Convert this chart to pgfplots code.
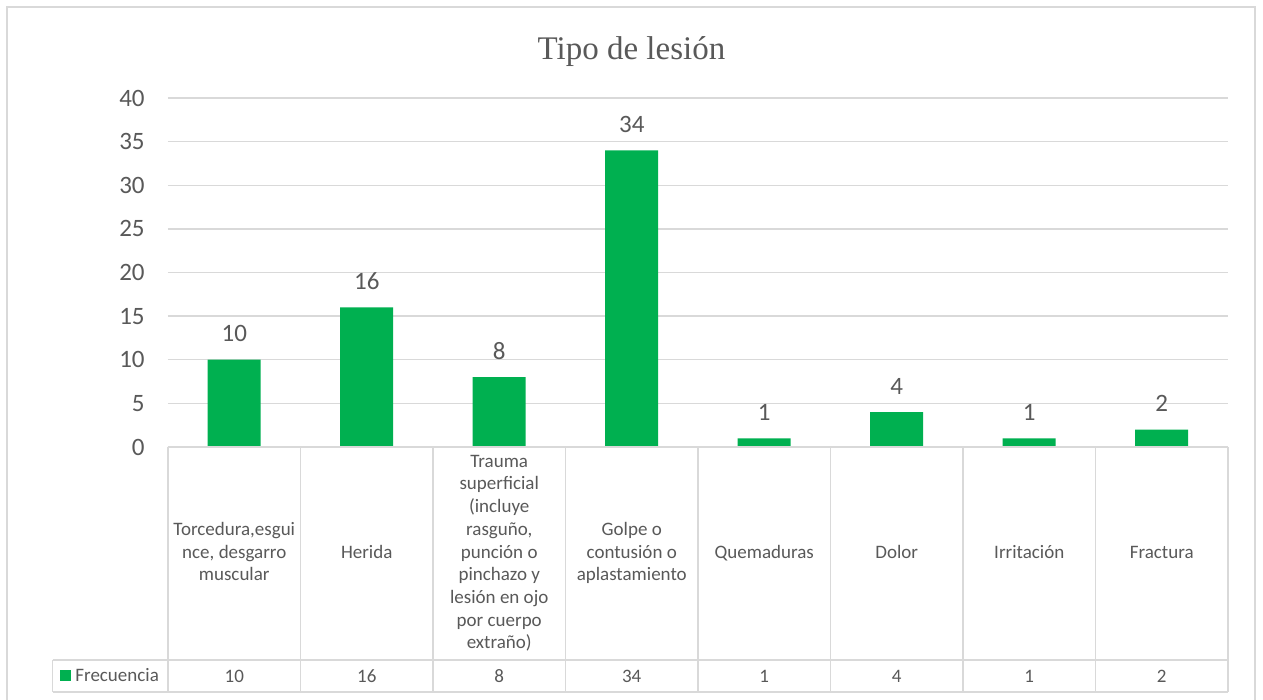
\documentclass[border=0pt]{standalone}
\usepackage{fontspec}
\setmainfont{Carlito}
\newfontfamily\titlefont{Liberation Serif}
\usepackage{pgfplots}
\usepackage{pgfplotstable}
\pgfplotsset{compat=1.18}

\definecolor{barg}{HTML}{00B050}
\definecolor{txt}{HTML}{595959}
\definecolor{gridc}{HTML}{D9D9D9}

% tipo de lesion -> frecuencia
\pgfplotstableread{
idx freq
0   10
1   16
2   8
3   34
4   1
5   4
6   1
7   2
}\lesiones

\newcommand{\tabfont}{\fontsize{9.5}{11.35}\selectfont}
\newcommand{\numfont}{\fontsize{12.5}{15}\selectfont}

\begin{document}
\begin{tikzpicture}
\useasboundingbox (-84pt,-126.5pt) rectangle (547.5pt,223.5pt);
\fill[white] (-84pt,-126.5pt) rectangle (547.5pt,223.5pt);
\draw[gridc, line width=0.75pt] (-80.5pt,-130pt) rectangle (543.5pt,220pt);
\node[font=\titlefont\fontsize{16.5}{20}\selectfont, text=txt, anchor=base, inner sep=0pt]
  at (231.75pt,193.5pt) {Tipo de lesión};

\begin{axis}[
  at={(0,0)}, anchor=south west,
  scale only axis,
  width=530pt, height=174.5pt,
  xmin=-0.5, xmax=7.5,
  ymin=0, ymax=40,
  ytick={0,5,...,40},
  xtick={0,...,7},
  xticklabels={
    {\strut Torcedura,esgui\\nce, desgarro\\muscular\strut},
    {\strut Herida\strut},
    {\strut Trauma\\superficial\\(incluye\\rasguño,\\punción o\\pinchazo y\\lesión en ojo\\por cuerpo\\extraño)\strut},
    {\strut Golpe o\\contusión o\\aplastamiento\strut},
    {\strut Quemaduras\strut}, {\strut Dolor\strut}, {\strut Irritación\strut}, {\strut Fractura\strut}},
  ymajorgrids,
  grid style={gridc, line width=0.65pt},
  axis line style={draw=none},
  major tick length=0pt,
  /pgf/number format/assume math mode=true,
  yticklabel style={font=\numfont, text=txt, anchor=east, inner sep=0pt, xshift=-11.5pt},
  xticklabel style={font=\tabfont, text=txt, anchor=center, align=center, inner sep=0pt, yshift=-53.25pt},
  clip=false,
]
\addplot[ybar, bar width=26.5pt, fill=barg, draw=none,
  nodes near coords,
  every node near coord/.append style={font=\numfont, text=txt, anchor=base, inner sep=0pt, yshift=9pt}]
  table[x=idx, y=freq] {\lesiones};

% fila de valores de la tabla de datos
\addplot[draw=none, nodes near coords, point meta=explicit,
  every node near coord/.append style={font=\tabfont, text=txt, anchor=base, inner sep=0pt, yshift=-117.5pt}]
  table[x=idx, y expr=0, meta=freq] {\lesiones};

% lineas de la tabla
\draw[gridc, line width=0.75pt] (axis cs:-0.5,0) -- (axis cs:7.5,0);
\pgfplotsinvokeforeach{-0.5,0.5,...,7.5}{
  \draw[gridc, line width=0.75pt] (axis cs:#1,0) -- ++(0pt,-122.5pt);
}
\draw[gridc, line width=0.75pt] ([xshift=-57.65pt,yshift=-106.5pt]axis cs:-0.5,0) -- ([yshift=-106.5pt]axis cs:7.5,0);
\draw[gridc, line width=0.75pt] ([xshift=-57.65pt,yshift=-122.5pt]axis cs:-0.5,0) -- ([yshift=-122.5pt]axis cs:7.5,0);
\draw[gridc, line width=0.75pt] ([xshift=-57.65pt,yshift=-106.5pt]axis cs:-0.5,0) -- ++(0pt,-16pt);
\fill[barg] ([xshift=-54pt,yshift=-111.5pt]axis cs:-0.5,0) rectangle ++(5.5pt,-5.5pt);
\node[font=\tabfont, text=txt, anchor=base west, inner sep=0pt]
  at ([xshift=-46.5pt,yshift=-117pt]axis cs:-0.5,0) {Frecuencia};
\end{axis}
\end{tikzpicture}
\end{document}
